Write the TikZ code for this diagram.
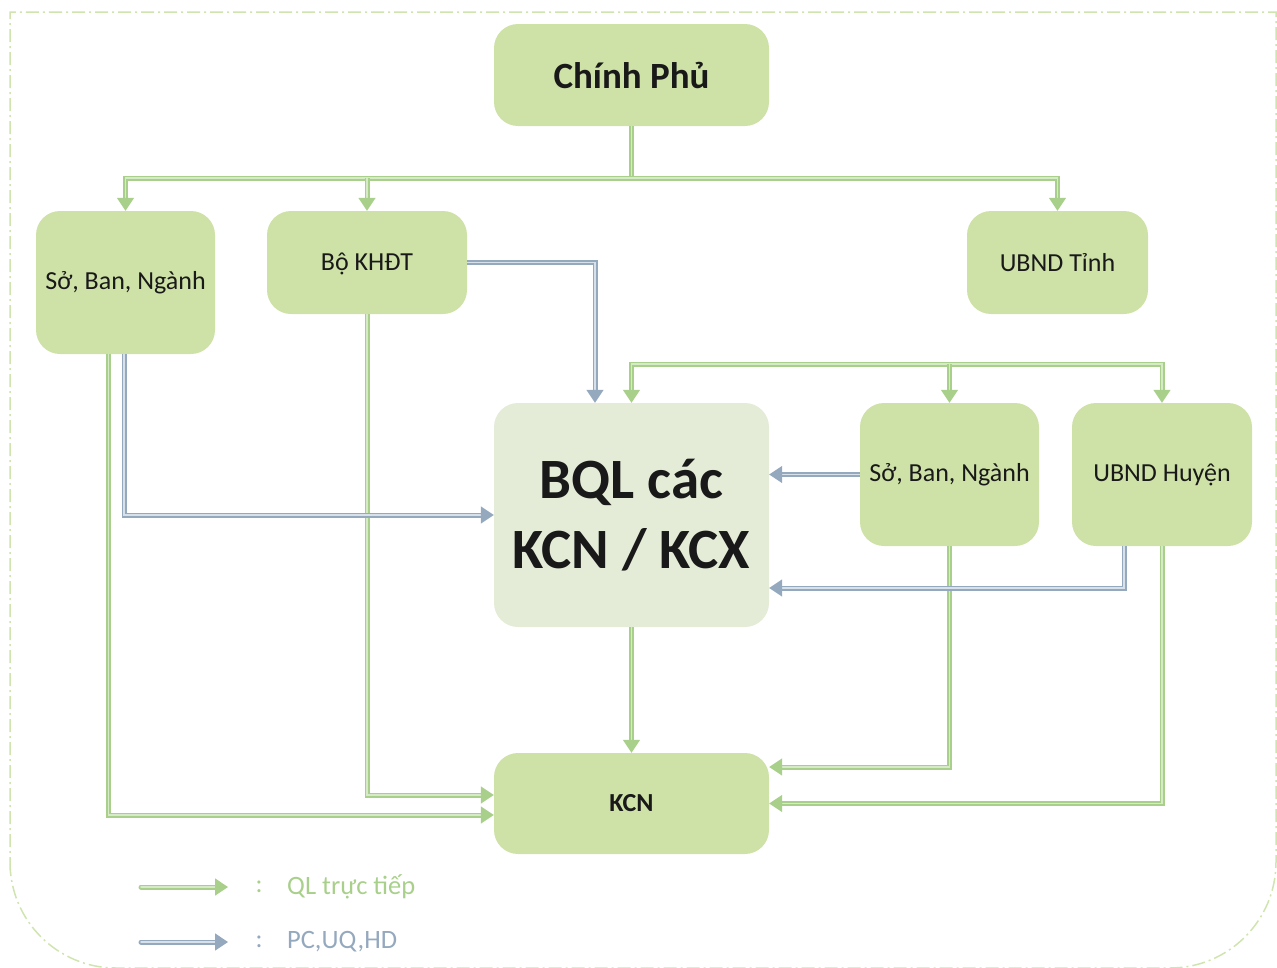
\documentclass[tikz,border=0pt]{standalone}
\usepackage{fontspec}
\setmainfont{Carlito}
\usetikzlibrary{arrows.meta,positioning}

\definecolor{boxgreen}{RGB}{206,226,168}
\definecolor{bqlgreen}{RGB}{228,236,216}
\definecolor{qlgreen}{RGB}{168,208,138}
\definecolor{qlinner}{RGB}{214,234,200}
\definecolor{pcblue}{RGB}{148,168,190}
\definecolor{pcinner}{RGB}{216,225,234}
\definecolor{framegreen}{RGB}{208,228,176}

\tikzset{
  box/.style={draw=none, fill=boxgreen, rounded corners=24pt, inner sep=0pt,
    text=black!90, font=\fontsize{26}{30}\selectfont},
  ql/.style={draw=qlgreen, line width=1.6pt, double=qlinner, double distance=1.8pt},
  pc/.style={draw=pcblue, line width=1.6pt, double=pcinner, double distance=1.8pt},
  tip/.style={-{Triangle[width=17pt,length=13pt]}},
  tips/.style={{Triangle[width=17pt,length=13pt]}-{Triangle[width=17pt,length=13pt]}},
}

\begin{document}
\begin{tikzpicture}[x=1pt,y=-1pt]
\useasboundingbox (0,0) rectangle (1277,967);

% frame
\draw[framegreen, line width=1.5pt, dash pattern=on 13pt off 4pt on 2pt off 4pt]
  (10,870) -- (10,12) -- (1276,12) -- (1276,862)
  arc[start angle=0, end angle=90, radius=106] -- (116,968)
  arc[start angle=90, end angle=180, radius=106];

% boxes
\node[box, minimum width=275pt, minimum height=102pt, font=\fontsize{37}{40}\selectfont\bfseries] (chinhphu) at (631.5,75) {Chính Phủ};
\node[box, minimum width=179pt, minimum height=143pt] (sobn1) at (125.5,282.5) {Sở, Ban, Ngành};
\node[box, minimum width=200pt, minimum height=103pt, text depth=2pt] (bokhdt) at (367,262.5) {Bộ KHĐT};
\node[box, minimum width=181pt, minimum height=103pt] (ubndtinh) at (1057.5,262.5) {UBND Tỉnh};
\node[box, fill=bqlgreen, minimum width=275pt, minimum height=224pt, align=center,
  font=\fontsize{57}{70}\selectfont\bfseries] (bql) at (631.5,515) {BQL các\\KCN / KCX};
\node[box, minimum width=179pt, minimum height=143pt] (sobn2) at (949.5,474.5) {Sở, Ban, Ngành};
\node[box, minimum width=180pt, minimum height=143pt] (ubndhuyen) at (1162,474.5) {UBND Huyện};
\node[box, minimum width=275pt, minimum height=101pt, font=\fontsize{26}{28}\selectfont\bfseries] (kcn) at (631.5,803.5) {KCN};

% bus lines
\coordinate (bus1) at (631.5,178);
\coordinate (bus2) at (0,364);

% QL truc tiep
\draw[ql] (chinhphu.south) -- (bus1);
\draw[ql, tips] (sobn1.north) |- (bus1) -| (ubndtinh.north);
\draw[ql, tip] (bokhdt.north |- bus1) -- (bokhdt.north);
\draw[ql, tips] (ubndhuyen.north) |- (bus2 -| bql.north) -- (bql.north);
\draw[ql, tip] (bus2 -| sobn2.north) -- (sobn2.north);
\draw[ql, tip] (bql.south) -- (kcn.north);
\draw[ql, tip] (sobn2.south) |- ([yshift=36.5pt]kcn.east);
\draw[ql, tip] (ubndhuyen.south) |- (kcn.east);
\draw[ql, tip] ([xshift=-17pt]sobn1.south) |- ([yshift=-11.5pt]kcn.west);
\draw[ql, tip] (bokhdt.south) |- ([yshift=8.5pt]kcn.west);

% PC, UQ, HD
\draw[pc, tip] (bokhdt.east) -| ([xshift=-36.5pt]bql.north);
\draw[pc, tip] ([xshift=-1.5pt]sobn1.south) |- (bql.west);
\draw[pc, tip] (sobn2.west) -- (bql.east |- sobn2.west);
\draw[pc, tip] ([xshift=-38pt]ubndhuyen.south) |- ([yshift=-73pt]bql.east);

% legend
\coordinate (qla) at (141,887);
\coordinate (qlb) at (228,887);
\coordinate (pca) at (141,942);
\coordinate (pcb) at (228,942);
\draw[ql, tip, line cap=round] (qla) -- (qlb);
\draw[pc, tip, line cap=round] (pca) -- (pcb);
\node[text=qlgreen, font=\fontsize{26}{28}\selectfont] (qlcolon) at (259,887) {:};
\node[text=pcblue, font=\fontsize{26}{28}\selectfont] (pccolon) at (259,942) {:};
\node[anchor=west, inner sep=0pt, text=qlgreen, font=\fontsize{26.5}{28}\selectfont] (qltext) at (287,887) {QL trực tiếp};
\node[anchor=west, inner sep=0pt, text=pcblue, font=\fontsize{26.5}{28}\selectfont] (pctext) at (287,942) {PC,UQ,HD};
\end{tikzpicture}
\end{document}
